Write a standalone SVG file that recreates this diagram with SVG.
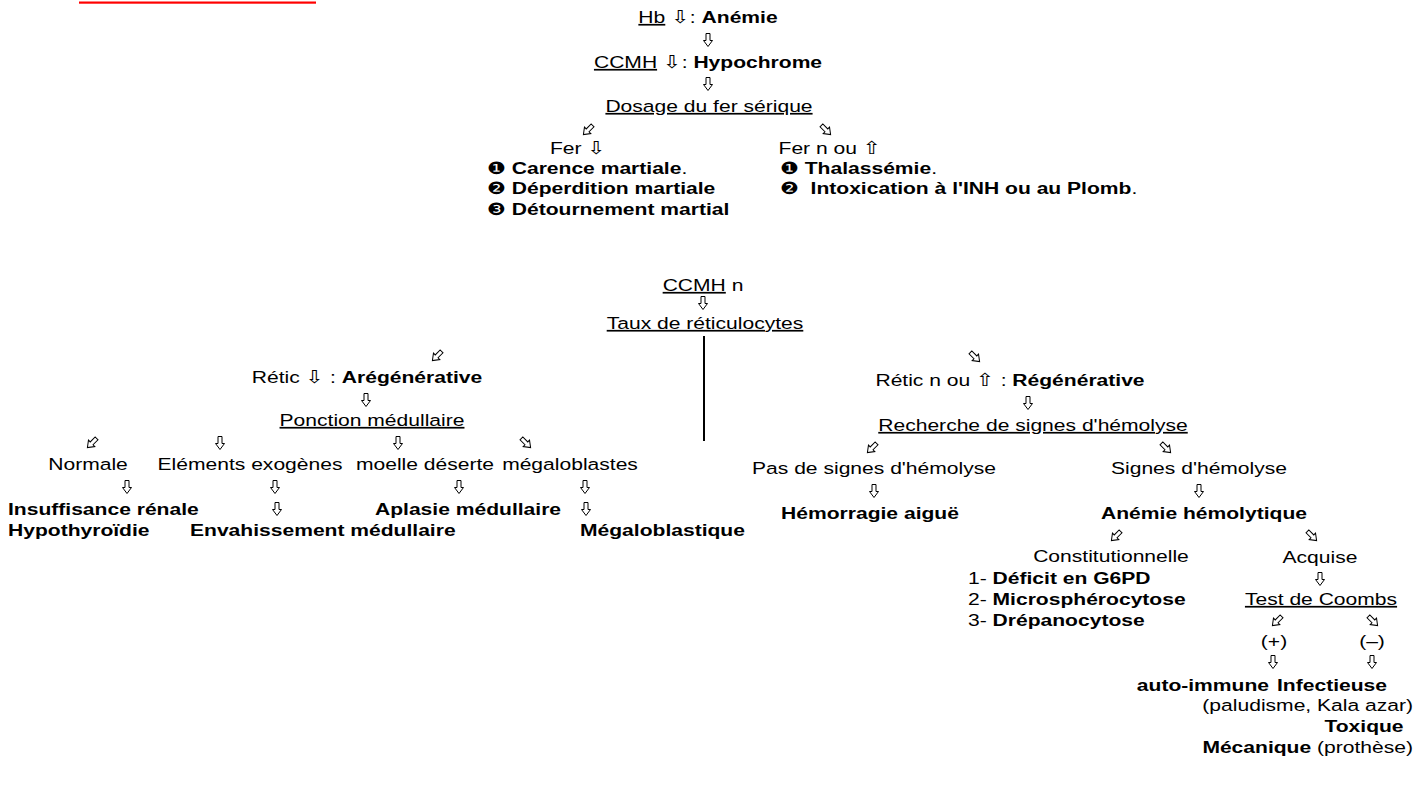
<svg xmlns="http://www.w3.org/2000/svg" xmlns:xlink="http://www.w3.org/1999/xlink" width="1423" height="807" viewBox="0 0 1423 807">
<style>
.t{font-family:"Liberation Sans",Arial,"DejaVu Sans",sans-serif;font-size:17px;fill:#000}
.b{font-weight:bold}
.u{text-decoration:underline}
.ar{font-family:"DejaVu Sans",sans-serif;font-size:18px;font-weight:normal}
.m{text-anchor:middle}
.e{text-anchor:end}
.arw{fill:#fff;stroke:#000;stroke-width:1}
</style>
<defs>
<path id="ad" class="arw" d="M-2,-6.5H2V0.5H4.5L0,6.5L-4.5,0.5H-2Z"/>
</defs>
<rect x="79" y="1.5" width="237" height="2.2" fill="#f00"/>

<g id="connectors">
<use xlink:href="#ad" href="#ad" transform="translate(708 40)"/>
<use xlink:href="#ad" href="#ad" transform="translate(708 84)"/>
<use xlink:href="#ad" href="#ad" transform="translate(588 130) rotate(45)"/>
<use xlink:href="#ad" href="#ad" transform="translate(826 130) rotate(-45)"/>
<use xlink:href="#ad" href="#ad" transform="translate(703 303)"/>
<line x1="704" y1="336" x2="704" y2="441" stroke="#000" stroke-width="2"/>
<use xlink:href="#ad" href="#ad" transform="translate(437 356) rotate(45)"/>
<use xlink:href="#ad" href="#ad" transform="translate(975 357) rotate(-45)"/>
<use xlink:href="#ad" href="#ad" transform="translate(366 400)"/>
<use xlink:href="#ad" href="#ad" transform="translate(1028 403)"/>
<use xlink:href="#ad" href="#ad" transform="translate(92 443) rotate(45)"/>
<use xlink:href="#ad" href="#ad" transform="translate(220 443)"/>
<use xlink:href="#ad" href="#ad" transform="translate(398 443)"/>
<use xlink:href="#ad" href="#ad" transform="translate(526 443) rotate(-45)"/>
<use xlink:href="#ad" href="#ad" transform="translate(872 448) rotate(45)"/>
<use xlink:href="#ad" href="#ad" transform="translate(1166 448) rotate(-45)"/>
<use xlink:href="#ad" href="#ad" transform="translate(127 487)"/>
<use xlink:href="#ad" href="#ad" transform="translate(275 487)"/>
<use xlink:href="#ad" href="#ad" transform="translate(459 487)"/>
<use xlink:href="#ad" href="#ad" transform="translate(585 487)"/>
<use xlink:href="#ad" href="#ad" transform="translate(874 491)"/>
<use xlink:href="#ad" href="#ad" transform="translate(1199 491)"/>
<use xlink:href="#ad" href="#ad" transform="translate(277 509)"/>
<use xlink:href="#ad" href="#ad" transform="translate(586 509)"/>
<use xlink:href="#ad" href="#ad" transform="translate(1116 536) rotate(45)"/>
<use xlink:href="#ad" href="#ad" transform="translate(1312 536) rotate(-45)"/>
<use xlink:href="#ad" href="#ad" transform="translate(1320 579)"/>
<use xlink:href="#ad" href="#ad" transform="translate(1277 621) rotate(45)"/>
<use xlink:href="#ad" href="#ad" transform="translate(1373 621) rotate(-45)"/>
<use xlink:href="#ad" href="#ad" transform="translate(1273 662)"/>
<use xlink:href="#ad" href="#ad" transform="translate(1372 662)"/>
</g>

<g id="n-hb"><text class="t m" transform="translate(708 23) scale(1.24 1)"><tspan class="u">Hb</tspan> <tspan class="ar">⇩</tspan>: <tspan class="b">Anémie</tspan></text></g>
<g id="n-ccmh"><text class="t m" transform="translate(708 68) scale(1.24 1)"><tspan class="u">CCMH</tspan> <tspan class="ar">⇩</tspan>: <tspan class="b">Hypochrome</tspan></text></g>
<g id="n-dosage"><text class="t m" transform="translate(709 112) scale(1.24 1)"><tspan class="u">Dosage du fer sérique</tspan></text></g>
<g id="n-ferbas"><text class="t m" transform="translate(578 154) scale(1.24 1)">Fer <tspan class="ar">⇩</tspan></text>
<text class="t" transform="translate(487 174) scale(1.24 1)">❶ <tspan class="b">Carence martiale</tspan>.</text>
<text class="t" transform="translate(487 194) scale(1.24 1)">❷ <tspan class="b">Déperdition martiale</tspan></text>
<text class="t" transform="translate(487 215) scale(1.24 1)">❸ <tspan class="b">Détournement martial</tspan></text></g>
<g id="n-ferhaut"><text class="t m" transform="translate(830 154) scale(1.24 1)">Fer n ou <tspan class="ar">⇧</tspan></text>
<text class="t" transform="translate(780 174) scale(1.24 1)">❶ <tspan class="b">Thalassémie</tspan>.</text>
<text class="t" transform="translate(780 194) scale(1.24 1)">❷&#160; <tspan class="b">Intoxication à l'INH ou au Plomb</tspan>.</text></g>

<g id="n-ccmhn"><text class="t m" transform="translate(703 291) scale(1.24 1)"><tspan class="u">CCMH</tspan> n</text></g>
<g id="n-taux"><text class="t m" transform="translate(705 329) scale(1.24 1)"><tspan class="u">Taux de réticulocytes</tspan></text></g>
<g id="n-aregen"><text class="t m" transform="translate(367 383) scale(1.24 1)">Rétic <tspan class="ar">⇩</tspan> : <tspan class="b">Arégénérative</tspan></text></g>
<g id="n-ponction"><text class="t m" transform="translate(372 426) scale(1.24 1)"><tspan class="u">Ponction médullaire</tspan></text></g>
<g id="n-regen"><text class="t m" transform="translate(1010 386) scale(1.24 1)">Rétic n ou <tspan class="ar">⇧</tspan> : <tspan class="b">Régénérative</tspan></text></g>
<g id="n-recherche"><text class="t m" transform="translate(1033 431) scale(1.24 1)"><tspan class="u">Recherche de signes d'hémolyse</tspan></text></g>

<g id="n-normale"><text class="t m" transform="translate(88 470) scale(1.24 1)">Normale</text></g>
<g id="n-exo"><text class="t m" transform="translate(250 470) scale(1.24 1)">Eléments exogènes</text></g>
<g id="n-deserte"><text class="t m" transform="translate(425 470) scale(1.24 1)">moelle déserte</text></g>
<g id="n-megab"><text class="t m" transform="translate(570 470) scale(1.24 1)">mégaloblastes</text></g>
<g id="n-ir"><text class="t b" transform="translate(8 515) scale(1.24 1)">Insuffisance rénale</text>
<text class="t b" transform="translate(8 536) scale(1.24 1)">Hypothyroïdie</text></g>
<g id="n-env"><text class="t b" transform="translate(190 536) scale(1.24 1)">Envahissement médullaire</text></g>
<g id="n-aplasie"><text class="t b" transform="translate(375 515) scale(1.24 1)">Aplasie médullaire</text></g>
<g id="n-megaq"><text class="t b" transform="translate(580 536) scale(1.24 1)">Mégaloblastique</text></g>

<g id="n-pas"><text class="t m" transform="translate(874 474) scale(1.24 1)">Pas de signes d'hémolyse</text></g>
<g id="n-signes"><text class="t m" transform="translate(1199 474) scale(1.24 1)">Signes d'hémolyse</text></g>
<g id="n-hemo"><text class="t m b" transform="translate(870 519) scale(1.24 1)">Hémorragie aiguë</text></g>
<g id="n-ah"><text class="t m b" transform="translate(1204 519) scale(1.24 1)">Anémie hémolytique</text></g>
<g id="n-const"><text class="t m" transform="translate(1111 562) scale(1.24 1)">Constitutionnelle</text>
<text class="t" transform="translate(968 584) scale(1.24 1)">1- <tspan class="b">Déficit en G6PD</tspan></text>
<text class="t" transform="translate(968 605) scale(1.24 1)">2- <tspan class="b">Microsphérocytose</tspan></text>
<text class="t" transform="translate(968 626) scale(1.24 1)">3- <tspan class="b">Drépanocytose</tspan></text></g>
<g id="n-acq"><text class="t m" transform="translate(1320 563) scale(1.24 1)">Acquise</text></g>
<g id="n-coombs"><text class="t m" transform="translate(1321 605) scale(1.24 1)"><tspan class="u">Test de Coombs</tspan></text></g>
<g id="n-pos"><text class="t m" transform="translate(1274 647) scale(1.24 1)">(+)</text></g>
<g id="n-neg"><text class="t m" transform="translate(1372 647) scale(1.24 1)">(–)</text></g>
<g id="n-auto"><text class="t b e" transform="translate(1269 691) scale(1.24 1)">auto-immune</text></g>
<g id="n-autres"><text class="t b" transform="translate(1277 691) scale(1.24 1)">Infectieuse</text>
<text class="t e" transform="translate(1413 711) scale(1.24 1)">(paludisme, Kala azar)</text>
<text class="t m b" transform="translate(1364 732) scale(1.24 1)">Toxique</text>
<text class="t e" transform="translate(1413 753) scale(1.24 1)"><tspan class="b">Mécanique</tspan> (prothèse)</text></g>
</svg>
